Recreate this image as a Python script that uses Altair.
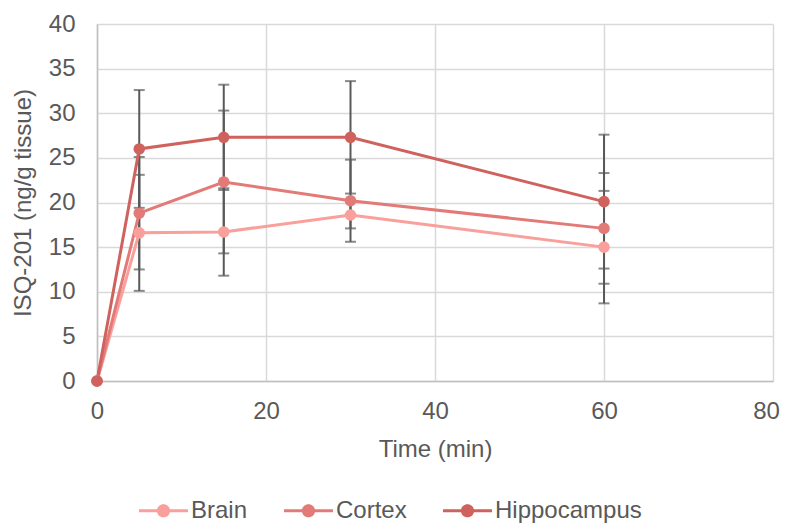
import altair as alt
import pandas as pd

time = [0, 5, 15, 30, 60]
series = ["Brain", "Cortex", "Hippocampus"]
brain = [0, 16.6, 16.7, 18.6, 15.0]
brain_err = [0, 6.5, 4.9, 1.5, 6.3]
cortex = [0, 18.8, 22.3, 20.2, 17.1]
cortex_err = [0, 6.3, 8.0, 4.6, 6.2]
hippo = [0, 26.0, 27.3, 27.3, 20.1]
hippo_err = [0, 6.6, 5.9, 6.3, 7.5]
colors = ["#F99F9C", "#E27B77", "#D0625E"]
x_ticks = [0, 20, 40, 60, 80]
y_ticks = [0, 5, 10, 15, 20, 25, 30, 35, 40]

rows = []
for name, vals, errs in zip(series, [brain, cortex, hippo], [brain_err, cortex_err, hippo_err]):
    for t, v, e in zip(time, vals, errs):
        rows.append({"time": t, "series": name, "value": v, "err": e,
                     "lo": v - e, "hi": v + e})
df = pd.DataFrame(rows)

FONT = "Liberation Sans"
TXT = "#595959"

x_axis = alt.Axis(values=x_ticks, title="Time (min)", grid=True, ticks=False,
                  labelFlush=False, labelPadding=18, titlePadding=14,
                  labelOffset={"condition": {"test": "datum.value == 80", "value": -7},
                               "value": 0},
                  labelFontSize=24, titleFontSize=24, titleFontWeight="normal")
y_axis = alt.Axis(values=y_ticks, title="ISQ-201 (ng/g tissue)", grid=True,
                  ticks=False, labelFlush=False, labelPadding=22, titlePadding=13,
                  labelFontSize=24, titleFontSize=24, titleFontWeight="normal")
x_scale = alt.Scale(domain=[0, 80], nice=False)
y_scale = alt.Scale(domain=[0, 40], nice=False)

X = alt.X("time:Q", scale=x_scale, axis=x_axis)

base = alt.Chart(df)
errs = base.transform_filter("datum.err > 0")

rules = errs.mark_rule(color="#595959", strokeWidth=2).encode(
    x=X,
    y=alt.Y("lo:Q", scale=y_scale, axis=y_axis),
    y2="hi:Q",
)
caps = errs.transform_fold(["lo", "hi"], as_=["bound", "bv"]).mark_tick(
    orient="horizontal", size=11, thickness=2, color="#595959"
).encode(
    x=X,
    y=alt.Y("bv:Q", scale=y_scale, axis=y_axis),
)

# one line layer per series (fixed colour) so only the point layer owns the legend
line_layers = [
    base.transform_filter(alt.datum.series == name).mark_line(
        strokeWidth=3, color=col
    ).encode(
        x=X,
        y=alt.Y("value:Q", scale=y_scale, axis=y_axis),
    )
    for name, col in zip(series, colors)
]

sym = ("M-1,-0.06H-0.25V0.06H-1Z M0.25,-0.06H1V0.06H0.25Z "
       "M-0.27,0A0.27,0.27 0 1,1 0.27,0A0.27,0.27 0 1,1 -0.27,0Z")

points = base.mark_point(filled=True, size=135, opacity=1).encode(
    x=X,
    y=alt.Y("value:Q", scale=y_scale, axis=y_axis),
    fill=alt.Fill(
        "series:N", scale=alt.Scale(domain=series, range=colors),
        legend=alt.Legend(
            title=None, orient="none", legendX=42, legendY=462,
            direction="horizontal", symbolType=sym, symbolSize=2401,
            symbolStrokeWidth=0, symbolOpacity=1, labelFontSize=24,
            labelColor=TXT, labelFont=FONT, labelOffset=3,
            columnPadding=36, padding=0,
        ),
    ),
)

chart = alt.layer(rules, caps, *line_layers, points).properties(
    width=676, height=357,
    autosize=alt.AutoSizeParams(type="none"),
    padding={"left": 89, "top": 16, "right": 8, "bottom": 146},
).configure(font=FONT).configure_axis(
    labelColor=TXT, titleColor=TXT, labelFont=FONT, titleFont=FONT,
    gridColor="#D9D9D9", gridWidth=1.5, domainColor="#BFBFBF", domainWidth=1.5,
).configure_view(stroke=None)

chart.save("out.html", embed_options={"renderer": "svg", "actions": False})
